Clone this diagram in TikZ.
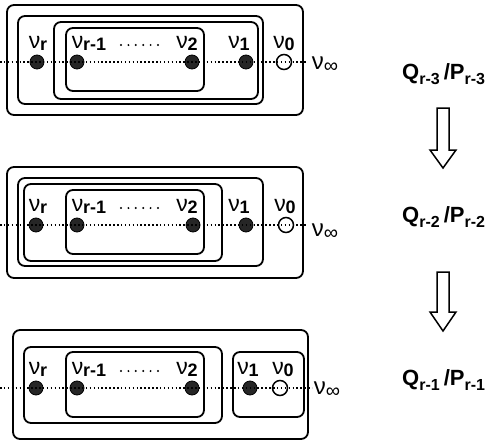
\documentclass[tikz,border=0pt]{standalone}
\usepackage{fontspec}
\setmainfont{Liberation Sans}
\newcommand\nuL[1]{{\fontsize{23}{23}\selectfont ν}\kern-0.3pt\raisebox{-2.5pt}{\fontsize{18}{18}\selectfont\bfseries #1}}
\newcommand\nuInf{{\fontsize{24}{24}\selectfont ν}\raisebox{-3.5pt}{\fontsize{20}{20}\selectfont ∞}}
\newcommand\QP[1]{{\fontsize{22}{22}\selectfont\bfseries Q}\raisebox{-5pt}{\fontsize{16}{16}\selectfont\bfseries r-#1}\kern4pt{\fontsize{22}{22}\selectfont\bfseries /P}\raisebox{-5pt}{\fontsize{16}{16}\selectfont\bfseries r-#1}}
\tikzset{
  box/.style={draw, line width=1.8pt, rounded corners=7pt},
  fdot/.style={circle, fill=black!85, draw=black, line width=0.8pt, minimum size=14pt, inner sep=0pt},
  odot/.style={circle, draw=black, line width=1.5pt, minimum size=15pt, inner sep=0pt},
  dline/.style={line width=1.5pt, dash pattern=on 1.5pt off 2.4pt},
  lab/.style={anchor=base, inner sep=0pt},
  qlab/.style={anchor=base west, inner sep=0pt},
  barrow/.style={draw, line width=1.5pt, fill=white, line join=miter}
}
\begin{document}
\begin{tikzpicture}[x=1pt,y=-1pt]
\useasboundingbox (0,0) rectangle (490,442);
% ---------- panel 1
\draw[box] (7,5) rectangle (303,115);
\draw[box] (18,16) rectangle (263,104);
\draw[box] (54,22) rectangle (258,99);
\draw[box] (66,28) rectangle (204,91);
\coordinate (aL) at (0,62);
\coordinate (aR) at (308,62);
\node[fdot] (a1) at (37,62) {};
\node[fdot] (a2) at (77,62) {};
\node[fdot] (a3) at (192,62) {};
\node[fdot] (a4) at (246,62) {};
\node[odot] (a5) at (284,62) {};
\draw[dline] (aL) -- (aR);
\node[lab] (la1) at (38,48) {\nuL{r}};
\node[lab] (la2) at (89,48) {\nuL{r-1}};
\node[lab] (la3) at (187,48) {\nuL{2}};
\node[lab] (la4) at (239,48) {\nuL{1}};
\node[lab] (la5) at (284,48) {\nuL{0}};
\node[lab] (la6) at (325,69) {\nuInf};
\foreach \i in {0,...,5} \fill (121+7.4*\i,45) circle (1.1);
% ---------- panel 2
\draw[box] (7,167) rectangle (303,278);
\draw[box] (18,178) rectangle (263,266);
\draw[box] (24,184) rectangle (222,261);
\draw[box] (66,190) rectangle (204,254);
\coordinate (bL) at (0,225);
\coordinate (bR) at (308,225);
\node[fdot] (b1) at (36,225) {};
\node[fdot] (b2) at (77,225) {};
\node[fdot] (b3) at (193,225) {};
\node[fdot] (b4) at (246,225) {};
\node[odot] (b5) at (286,225) {};
\draw[dline] (bL) -- (bR);
\node[lab] (lb1) at (38,211) {\nuL{r}};
\node[lab] (lb2) at (89,211) {\nuL{r-1}};
\node[lab] (lb3) at (187,211) {\nuL{2}};
\node[lab] (lb4) at (239,211) {\nuL{1}};
\node[lab] (lb5) at (285,211) {\nuL{0}};
\node[lab] (lb6) at (325,236) {\nuInf};
\foreach \i in {0,...,5} \fill (121+7.4*\i,208) circle (1.1);
% ---------- panel 3
\draw[box] (13,330) rectangle (308,439);
\draw[box] (24,347) rectangle (222,423);
\draw[box] (66,352) rectangle (204,417);
\draw[box] (233,352) rectangle (304,417);
\coordinate (cL) at (0,388);
\coordinate (cR) at (312,388);
\node[fdot] (c1) at (36,388) {};
\node[fdot] (c2) at (77,388) {};
\node[fdot] (c3) at (192,388) {};
\node[fdot] (c4) at (250,388) {};
\node[odot] (c5) at (280,388) {};
\draw[dline] (cL) -- (cR);
\node[lab] (lc1) at (38,374) {\nuL{r}};
\node[lab] (lc2) at (89,374) {\nuL{r-1}};
\node[lab] (lc3) at (187,374) {\nuL{2}};
\node[lab] (lc4) at (248,374) {\nuL{1}};
\node[lab] (lc5) at (283,374) {\nuL{0}};
\node[lab] (lc6) at (327,394) {\nuInf};
\foreach \i in {0,...,5} \fill (121+7.4*\i,371) circle (1.1);
% ---------- right column
\node[qlab] (q1) at (402,79) {\QP{3}};
\node[qlab] (q2) at (402,222) {\QP{2}};
\node[qlab] (q3) at (402,385) {\QP{1}};
\draw[barrow] (437,108) -- (449,108) -- (449,150) -- (456,150) -- (443,168) -- (430,150) -- (437,150) -- cycle;
\draw[barrow] (437,272) -- (449,272) -- (449,312) -- (456,312) -- (443,331) -- (430,312) -- (437,312) -- cycle;
\end{tikzpicture}
\end{document}
